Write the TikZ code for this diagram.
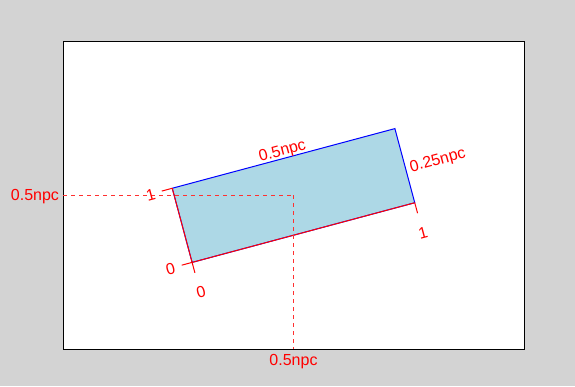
\documentclass[tikz,border=0pt]{standalone}
\usepackage{fontspec}
\setmainfont{Liberation Sans}
\definecolor{bggray}{HTML}{D3D3D3}
\definecolor{vpblue}{HTML}{ADD8E6}
\definecolor{labred}{HTML}{FF0000}
\definecolor{dashred}{HTML}{FF3030}
\begin{document}
\begin{tikzpicture}[x=0.75pt,y=0.75pt,
  font=\fontsize{12}{14}\selectfont,
  lab/.style={text=labred, inner sep=0pt, outer sep=0pt},
  dashbit/.style={fill=dashred},
  axisline/.style={draw=labred, line width=0.75pt},
  vpborder/.style={draw=blue, line width=0.75pt}]
\fill[bggray] (0,0) rectangle (575,386);
\useasboundingbox (0,0) rectangle (575,386);
% panel
\coordinate (pll) at (63,37);
\coordinate (pur) at (524,344);
\draw[fill=white, line width=0.75pt] (pll) rectangle (pur);
% rotated viewport
\begin{scope}[shift={(293.5,190.5)}, rotate=15]
  \coordinate (bl) at (-115.25,-38.375);
  \coordinate (br) at (115.25,-38.375);
  \coordinate (tr) at (115.25,38.375);
  \coordinate (tl) at (-115.25,38.375);
  \coordinate (vc) at (0,0);
  \fill[vpblue] (bl) rectangle (tr);
  \draw[vpborder] (bl) rectangle (tr);
  \draw[axisline] (tl) -- (bl) -- (br);
  \coordinate (ty0) at (-126.05,-38.375);
  \coordinate (ty1) at (-126.05,38.375);
  \coordinate (tx0) at (-115.25,-49.175);
  \coordinate (tx1) at (115.25,-49.175);
  \draw[axisline] (bl) -- (ty0);
  \draw[axisline] (tl) -- (ty1);
  \draw[axisline] (bl) -- (tx0);
  \draw[axisline] (br) -- (tx1);
\end{scope}
% guides: dashes as small filled bars
\foreach \i in {0,8,...,224} {
  \fill[dashbit] ({63+\i},189.8) rectangle ({min(63+\i+4,294.2)},191.4);
}
\foreach \i in {0,8,...,152} {
  \fill[dashbit] (292.8,{191.4-\i}) rectangle (294.4,{max(191.4-\i-4,37)});
}
\begin{scope}[shift={(293.5,190.5)}, rotate=15]
  \node[lab, transform shape, anchor=center] (ly0) at (-137.9,-39.6) {0};
  \node[lab, transform shape, anchor=center] (ly1) at (-137.9,37.2) {1};
  \node[lab, transform shape, anchor=center] (lx0) at (-114.3,-69.5) {0};
  \node[lab, transform shape, anchor=center] (lx1) at (115.5,-69.5) {1};
  \node[lab, transform shape, anchor=base] (ltop) at (0.7,41.2) {0.5npc};
  \node[lab, transform shape, anchor=base] (lright) at (148.4,-7.9) {0.25npc};
\end{scope}
\node[lab, anchor=base east] (lleft) at (59,185) {0.5npc};
\node[lab, anchor=base] (lbottom) at (293.5,21) {0.5npc};
\end{tikzpicture}
\end{document}
